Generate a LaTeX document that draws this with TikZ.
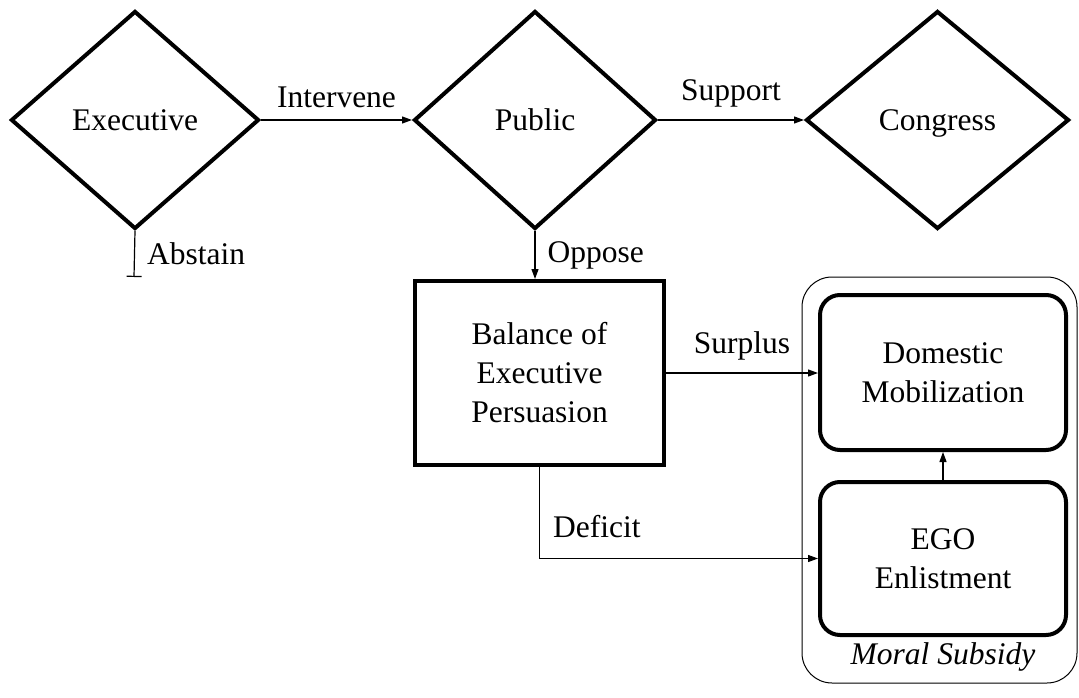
\documentclass[tikz,border=0pt]{standalone}
\usepackage{fontspec}
\setmainfont{Liberation Serif}
\usetikzlibrary{shapes.geometric,arrows.meta}
\tikzset{
  every node/.style={font=\fontsize{31.5}{39}\selectfont},
  dec/.style={diamond, draw, line width=4pt, inner sep=0pt, align=center, text height=21pt, text depth=0pt},
  thickbox/.style={rectangle, draw, line width=4pt, inner sep=0pt, align=center},
  roundbox/.style={rectangle, draw, line width=4pt, rounded corners=20pt, inner sep=0pt, align=center},
  conn/.style={line width=1.2pt, -{Triangle[length=10pt,width=7pt]}},
  lbl/.style={inner sep=0pt}
}
\begin{document}
\begin{tikzpicture}[x=1pt,y=-1pt]
\useasboundingbox (0,0) rectangle (1079,698);
% outer group
\node[draw, line width=1pt, rounded corners=30pt, minimum width=275pt, minimum height=406pt, inner sep=0pt] (moral) at (939.5,480) {};
\node[lbl, font=\fontsize{31.5}{39}\selectfont\itshape] (morallbl) at (943,657) {Moral Subsidy};
% decisions
\node[dec, minimum width=248pt, minimum height=218pt] (exec) at (135,120) {Executive};
\node[dec, minimum width=242pt, minimum height=218pt] (pub) at (535,120) {Public};
\node[dec, minimum width=263pt, minimum height=218pt] (cong) at (937.5,120) {Congress};
% boxes
\node[thickbox, minimum width=249pt, minimum height=184pt] (bal) at (539.5,373) {Balance of\\Executive\\Persuasion};
\node[roundbox, minimum width=246pt, minimum height=155pt] (dom) at (943,372.5) {Domestic\\Mobilization};
\node[roundbox, minimum width=246pt, minimum height=153pt] (ego) at (943,558.5) {EGO\\Enlistment};
\coordinate (abst) at (134,277);
% connectors
\draw[conn] (exec.east) -- node[lbl, above=12pt] {Intervene} (pub.west);
\draw[conn] (pub.east) -- node[lbl, above=12pt] {Support} (cong.west);
\draw[line width=1.2pt, -{Bar[width=15pt]}] (exec.south) -- node[lbl, right=12pt] {Abstain} (abst);
\draw[conn] (pub.south) -- node[lbl, right=12pt] {Oppose} (bal.north -| pub.south);
\draw[conn] (bal.east) -- node[lbl, above=12pt] {Surplus} (bal.east -| dom.west);
\draw[conn] (bal.south) |- node[lbl, pos=0.5, anchor=base west, xshift=13pt, yshift=21pt] {Deficit} (ego.west);
\draw[conn] (ego.north) -- (dom.south);
\end{tikzpicture}
\end{document}
